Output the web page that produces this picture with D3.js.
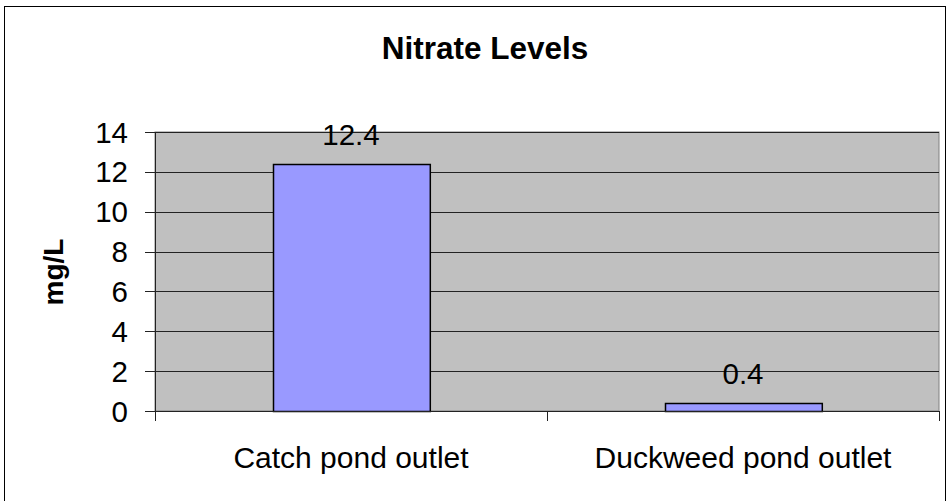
<!DOCTYPE html>
<html><head><meta charset="utf-8">
<script src="https://cdn.jsdelivr.net/npm/d3@7"></script>
<style>body{margin:0;background:#fff}svg{display:block}text{font-family:"Liberation Sans",Arial,sans-serif}</style>
</head><body>
<script>
const categories = ["Catch pond outlet", "Duckweed pond outlet"];
const values = [12.4, 0.4];
const yTicks = [0, 2, 4, 6, 8, 10, 12, 14];
const title = "Nitrate Levels";
const yTitle = "mg/L";

const W = 948, H = 501;
const svg = d3.select("body").append("svg").attr("width", W).attr("height", H);
svg.append("rect").attr("x", 4.5).attr("y", 6.5).attr("width", 941).attr("height", 520)
  .attr("fill", "#fff").attr("stroke", "#000").attr("stroke-width", 1);

const m = {l: 155, r: 939, t: 132, b: 411};
const x = d3.scaleBand().domain(categories).range([m.l, m.r]).paddingInner(0.6).paddingOuter(0.3);
const xb = d3.scaleBand().domain(categories).range([m.l, m.r]);
const y = d3.scaleLinear().domain([0, 14]).range([m.b, m.t]);

svg.append("rect").attr("x", m.l).attr("y", m.t).attr("width", m.r - m.l).attr("height", m.b - m.t)
  .attr("fill", "#c0c0c0").attr("stroke", "#808080");

svg.append("g").selectAll("line").data(yTicks).join("line")
  .attr("x1", m.l - 10).attr("x2", m.r).attr("y1", d => Math.round(y(d)) + 0.5).attr("y2", d => Math.round(y(d)) + 0.5)
  .attr("stroke", "#222").attr("stroke-width", 1);

svg.append("g").selectAll("rect").data(values).join("rect")
  .attr("x", (d, i) => Math.round(x(categories[i])) + 0.5)
  .attr("width", x.bandwidth())
  .attr("y", d => Math.round(y(d)) + 0.5)
  .attr("height", d => y(0) - Math.round(y(d)))
  .attr("fill", "#9999ff").attr("stroke", "#000").attr("stroke-width", 1.5);

// axes
svg.append("line").attr("x1", m.l + 0.5).attr("x2", m.l + 0.5).attr("y1", m.t).attr("y2", m.b + 10).attr("stroke", "#222");
svg.append("line").attr("x1", m.l).attr("x2", m.r).attr("y1", m.b + 0.5).attr("y2", m.b + 0.5).attr("stroke", "#222");
const xTicksPos = categories.map(c => xb(c)).concat([m.r]);
svg.append("g").selectAll("line").data(xTicksPos.slice(1)).join("line")
  .attr("x1", d => Math.round(d) + 0.5).attr("x2", d => Math.round(d) + 0.5)
  .attr("y1", m.b).attr("y2", m.b + 10).attr("stroke", "#222");

svg.append("g").selectAll("text").data(yTicks).join("text")
  .attr("x", 128).attr("y", d => y(d) + 10.5).attr("text-anchor", "end")
  .attr("font-size", 29.5).text(d => d);

svg.append("g").selectAll("text").data(categories).join("text")
  .attr("x", d => xb(d) + xb.bandwidth() / 2).attr("y", 468).attr("text-anchor", "middle")
  .attr("font-size", 30).text(d => d);

svg.append("g").selectAll("text").data(values).join("text")
  .attr("x", (d, i) => x(categories[i]) + x.bandwidth() / 2).attr("y", d => y(d) - 19)
  .attr("text-anchor", "middle").attr("font-size", 29.5).text(d => d);

svg.append("text").attr("x", 485).attr("y", 59).attr("text-anchor", "middle")
  .attr("font-size", 31.5).attr("font-weight", "bold").text(title);

svg.append("text").attr("transform", "translate(63,272) rotate(-90)").attr("text-anchor", "middle")
  .attr("font-size", 28).attr("font-weight", "bold").text(yTitle);
</script>
</body></html>
